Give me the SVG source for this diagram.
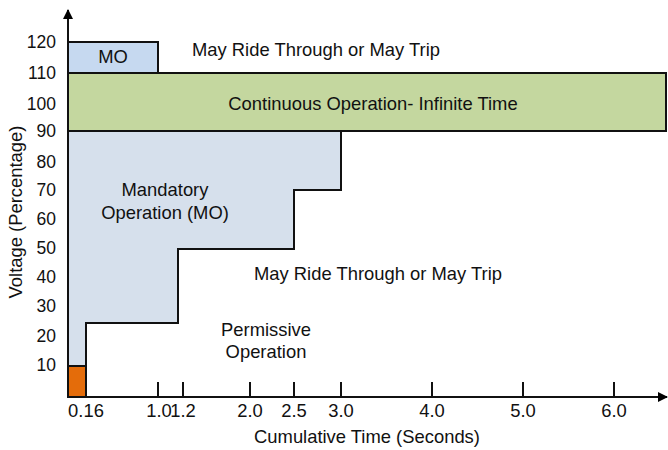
<svg xmlns="http://www.w3.org/2000/svg" width="668" height="450" viewBox="0 0 668 450">
<defs>
<marker id="arr" markerWidth="10" markerHeight="10" refX="9" refY="5" orient="auto" markerUnits="userSpaceOnUse">
<path d="M0,0 L10,5 L0,10 Z" fill="#000"/>
</marker>
<style>
text{font-family:"Liberation Sans",Arial,sans-serif;font-size:18.4px;fill:#111;}
.m{text-anchor:middle;}
.e{text-anchor:end;font-size:17.5px;}
.ol{stroke:#111;stroke-width:2;}
</style>
</defs>
<rect width="668" height="450" fill="#fff"/>
<g id="mandatory">
<path d="M68,131 H341 V190 H294 V249 H178 V323 H86 V397 H68 Z" fill="#d6e0ec"/>
<path d="M341,131 V190 H294 V249 H178 V323 H86 V366" fill="none" class="ol"/>
<text class="m" x="165" y="196">Mandatory</text>
<text class="m" x="165" y="219">Operation (MO)</text>
</g>
<g id="orange">
<rect x="68" y="366" width="18" height="31" fill="#e46c0a" class="ol"/>
</g>
<g id="mo-box">
<rect x="68" y="42" width="90" height="31" fill="#c6d9f0" class="ol"/>
<text class="m" x="113" y="63">MO</text>
</g>
<g id="continuous">
<rect x="68" y="73" width="598" height="58" fill="#c4d79f" class="ol"/>
<text class="m" x="373" y="110">Continuous Operation- Infinite Time</text>
</g>
<g id="labels">
<text class="m" x="316" y="56">May Ride Through or May Trip</text>
<text class="m" x="378" y="280">May Ride Through or May Trip</text>
<text class="m" x="266" y="336">Permissive</text>
<text class="m" x="266" y="358">Operation</text>
</g>
<g id="connectors">
<line x1="68" y1="397" x2="68" y2="10" class="ol" marker-end="url(#arr)"/>
<line x1="68" y1="397" x2="667" y2="397" class="ol" marker-end="url(#arr)"/>
<path d="M158,382 V397 M183,382 V397 M250,382 V397 M294,382 V397 M341,382 V397 M432,382 V397 M523,382 V397 M614,382 V397" class="ol" fill="none"/>
</g>
<g id="y-ticks">
<text class="e" x="56" y="48">120</text>
<text class="e" x="56" y="79">110</text>
<text class="e" x="56" y="110">100</text>
<text class="e" x="56" y="137">90</text>
<text class="e" x="56" y="168">80</text>
<text class="e" x="56" y="196">70</text>
<text class="e" x="56" y="225">60</text>
<text class="e" x="56" y="254">50</text>
<text class="e" x="56" y="283">40</text>
<text class="e" x="56" y="312">30</text>
<text class="e" x="56" y="342">20</text>
<text class="e" x="56" y="371">10</text>
<text class="m" transform="translate(22,212) rotate(-90)">Voltage (Percentage)</text>
</g>
<g id="x-ticks">
<text class="m" x="86" y="417">0.16</text>
<text class="m" x="159" y="417">1.0</text>
<text class="m" x="183" y="417">1.2</text>
<text class="m" x="250" y="417">2.0</text>
<text class="m" x="294" y="417">2.5</text>
<text class="m" x="341" y="417">3.0</text>
<text class="m" x="432" y="417">4.0</text>
<text class="m" x="523" y="417">5.0</text>
<text class="m" x="614" y="417">6.0</text>
<text class="m" x="367" y="443">Cumulative Time (Seconds)</text>
</g>
</svg>
